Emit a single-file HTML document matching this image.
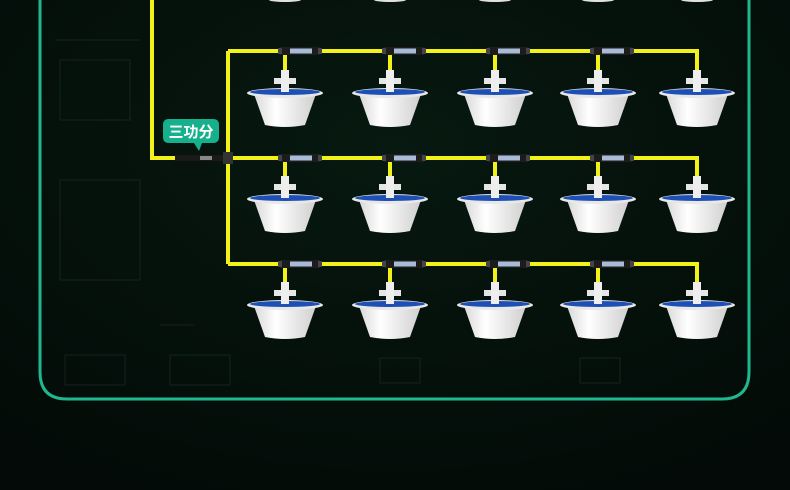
<!DOCTYPE html>
<html><head><meta charset="utf-8"><style>
html,body{margin:0;padding:0;background:#040d09;}
svg{display:block}
</style></head><body>
<svg width="790" height="490" viewBox="0 0 790 490" xmlns="http://www.w3.org/2000/svg">
<defs>
<radialGradient id="bg" cx="0.5" cy="0.3" r="0.8">
<stop offset="0" stop-color="#071910"/><stop offset="1" stop-color="#030a07"/>
</radialGradient>
<linearGradient id="cone" x1="0" x2="1">
<stop offset="0" stop-color="#d8d8d8"/><stop offset="0.35" stop-color="#ffffff"/><stop offset="1" stop-color="#cfcfcf"/>
</linearGradient>
<g id="ant">
<rect x="-4" y="-22" width="8" height="24" fill="#e6e6e6"/>
<rect x="-11" y="-14" width="22" height="6" fill="#e6e6e6"/>
<path d="M-31 2 L31 2 L20 33 Q0 37 -20 33 Z" fill="url(#cone)"/>
<ellipse cx="0" cy="1" rx="38" ry="5" fill="#e8e8e8"/>
<ellipse cx="0" cy="0" rx="35" ry="3" fill="#1d4fb5"/>
<rect x="-4" y="-22" width="8" height="22" fill="#eeeeee"/>
</g>
<g id="cpl">
<rect x="-20" y="-4" width="40" height="8" fill="#1c1c1c"/>
<rect x="-10" y="-2.5" width="22" height="5" fill="#aabbd8"/>
<rect x="-22" y="-3" width="4" height="6" fill="#444"/>
<rect x="18" y="-3" width="4" height="6" fill="#444"/>
</g>
</defs>
<rect width="790" height="490" fill="url(#bg)"/>
<g stroke="#1a3326" stroke-width="1" fill="none" opacity="0.6">
<rect x="65" y="355" width="60" height="30"/><rect x="170" y="355" width="60" height="30"/>
<rect x="380" y="358" width="40" height="25"/><rect x="580" y="358" width="40" height="25"/>
<line x1="160" y1="325" x2="195" y2="325"/><line x1="55" y1="40" x2="140" y2="40"/>
<rect x="60" y="60" width="70" height="60"/><rect x="60" y="180" width="80" height="100"/>
</g>
<path d="M40 0 V372 Q40 399 67 399 H722 Q749 399 749 372 V0" fill="none" stroke="#1fb88e" stroke-width="3"/>
<g fill="#e0e0e0">
<ellipse cx="285" cy="0" rx="16" ry="2"/><ellipse cx="390" cy="0" rx="16" ry="2"/><ellipse cx="495" cy="0" rx="16" ry="2"/><ellipse cx="598" cy="0" rx="16" ry="2"/><ellipse cx="697" cy="0" rx="16" ry="2"/>
</g>
<g stroke="#f2f21a" stroke-width="4" fill="none">
<path d="M152 0 V158 H228"/>
<path d="M228 51 V264"/>
<path d="M228 51 H697 V80"/><path d="M228 158 H697 V186"/><path d="M228 264 H697 V292"/>
<path d="M285 51 V80 M390 51 V80 M495 51 V80 M598 51 V80"/>
<path d="M285 158 V186 M390 158 V186 M495 158 V186 M598 158 V186"/>
<path d="M285 264 V292 M390 264 V292 M495 264 V292 M598 264 V292"/>
</g>
<g>
<use href="#cpl" x="300" y="51"/><use href="#cpl" x="404" y="51"/><use href="#cpl" x="508" y="51"/><use href="#cpl" x="612" y="51"/>
<use href="#cpl" x="300" y="158"/><use href="#cpl" x="404" y="158"/><use href="#cpl" x="508" y="158"/><use href="#cpl" x="612" y="158"/>
<use href="#cpl" x="300" y="264"/><use href="#cpl" x="404" y="264"/><use href="#cpl" x="508" y="264"/><use href="#cpl" x="612" y="264"/>
</g>
<rect x="175" y="155" width="48" height="6" fill="#1a1a1a"/>
<rect x="200" y="156" width="12" height="4" fill="#888"/>
<rect x="223" y="152" width="10" height="12" fill="#333"/>
<g>
<use href="#ant" x="285" y="92"/><use href="#ant" x="390" y="92"/><use href="#ant" x="495" y="92"/><use href="#ant" x="598" y="92"/><use href="#ant" x="697" y="92"/>
<use href="#ant" x="285" y="198"/><use href="#ant" x="390" y="198"/><use href="#ant" x="495" y="198"/><use href="#ant" x="598" y="198"/><use href="#ant" x="697" y="198"/>
<use href="#ant" x="285" y="304"/><use href="#ant" x="390" y="304"/><use href="#ant" x="495" y="304"/><use href="#ant" x="598" y="304"/><use href="#ant" x="697" y="304"/>
</g>
<path d="M169 119 H213 Q219 119 219 125 V137 Q219 143 213 143 H202 L199 151 L194 143 H169 Q163 143 163 137 V125 Q163 119 169 119 Z" fill="#17b08c"/>
<text x="191" y="137" font-family="'Liberation Sans','Noto Sans CJK SC',sans-serif" font-size="15" font-weight="bold" fill="#fff" text-anchor="middle">三功分</text>
</svg>
</body></html>
